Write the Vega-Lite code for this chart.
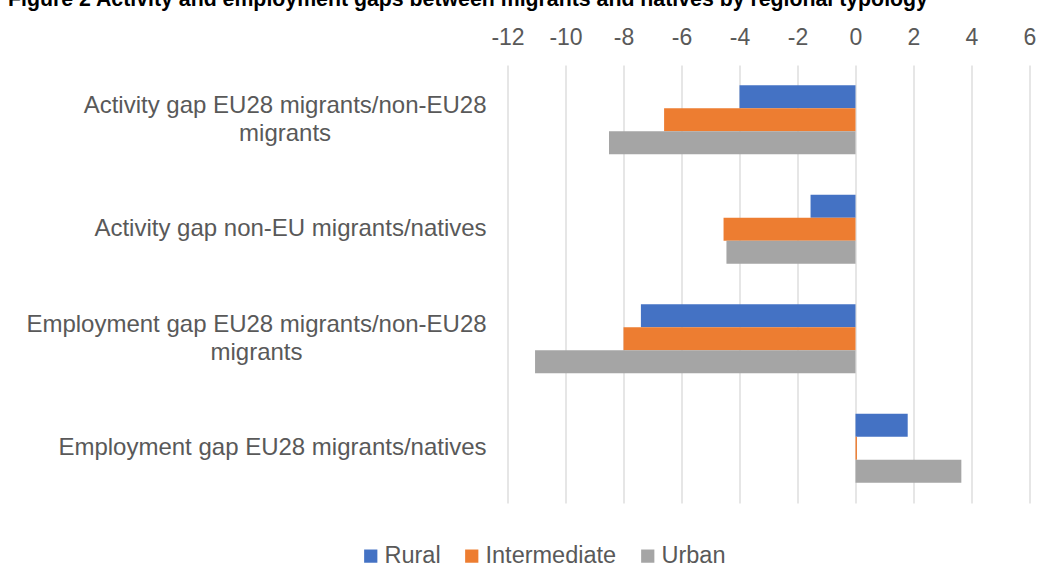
{
  "$schema": "https://vega.github.io/schema/vega-lite/v6.json",
  "autosize": "none",
  "width": 522,
  "height": 438,
  "padding": {"left": 507.5, "top": 65, "right": 29.5, "bottom": 83},
  "background": "white",
  "title": {
    "text": "Figure 2 Activity and employment gaps between migrants and natives by regional typology",
    "anchor": "start",
    "frame": "group",
    "dx": -499.5,
    "dy": -16,
    "font": "Liberation Sans",
    "fontSize": 21.3,
    "fontWeight": "bold",
    "color": "#000000",
    "offset": 0
  },
  "data": {
    "values": [
      {"category": "Activity gap EU28 migrants/non-EU28|migrants", "region": "Rural", "value": -4.0},
      {"category": "Activity gap EU28 migrants/non-EU28|migrants", "region": "Intermediate", "value": -6.6},
      {"category": "Activity gap EU28 migrants/non-EU28|migrants", "region": "Urban", "value": -8.5},
      {"category": "Activity gap non-EU migrants/natives", "region": "Rural", "value": -1.55},
      {"category": "Activity gap non-EU migrants/natives", "region": "Intermediate", "value": -4.55},
      {"category": "Activity gap non-EU migrants/natives", "region": "Urban", "value": -4.45},
      {"category": "Employment gap EU28 migrants/non-EU28|migrants", "region": "Rural", "value": -7.4},
      {"category": "Employment gap EU28 migrants/non-EU28|migrants", "region": "Intermediate", "value": -8.0},
      {"category": "Employment gap EU28 migrants/non-EU28|migrants", "region": "Urban", "value": -11.05},
      {"category": "Employment gap EU28 migrants/natives", "region": "Rural", "value": 1.8},
      {"category": "Employment gap EU28 migrants/natives", "region": "Intermediate", "value": 0.05},
      {"category": "Employment gap EU28 migrants/natives", "region": "Urban", "value": 3.65}
    ]
  },
  "mark": {"type": "bar"},
  "encoding": {
    "y": {
      "field": "category",
      "type": "nominal",
      "sort": null,
      "scale": {"paddingInner": 0.37, "paddingOuter": 0.185},
      "axis": {
        "title": null,
        "domain": false,
        "ticks": false,
        "labelPadding": 21.5,
        "labelAlign": "center",
        "labelFont": "Liberation Sans",
        "labelFontSize": 24,
        "labelColor": "#595959",
        "labelLimit": 800,
        "labelLineHeight": 28,
        "labelExpr": "split(datum.label, '|')",
        "encoding": {
          "labels": {
            "dx": {
              "condition": [
                {"test": "indexof(datum.value, 'Activity gap EU28') == 0", "value": -201.4},
                {"test": "indexof(datum.value, 'Activity gap non') == 0", "value": -196},
                {"test": "indexof(datum.value, 'Employment gap EU28 migrants/non') == 0", "value": -230}
              ],
              "value": -214
            },
            "dy": {
              "condition": {"test": "indexof(datum.value, '|') >= 0", "value": -14},
              "value": 0
            }
          }
        }
      }
    },
    "yOffset": {
      "field": "region",
      "type": "nominal",
      "sort": ["Rural", "Intermediate", "Urban"],
      "scale": {"paddingInner": 0, "paddingOuter": 0}
    },
    "x": {
      "field": "value",
      "type": "quantitative",
      "scale": {"domain": [-12, 6], "nice": false, "zero": false},
      "axis": {
        "orient": "top",
        "title": null,
        "domain": false,
        "ticks": false,
        "values": [-12, -10, -8, -6, -4, -2, 0, 2, 4, 6],
        "labelExpr": "toString(datum.value)",
        "labelFlush": false,
        "labelOverlap": false,
        "labelPadding": 16,
        "labelFont": "Liberation Sans",
        "labelFontSize": 23,
        "labelColor": "#595959",
        "grid": true,
        "gridColor": "#D9D9D9",
        "gridWidth": 1.3
      }
    },
    "color": {
      "field": "region",
      "type": "nominal",
      "sort": ["Rural", "Intermediate", "Urban"],
      "scale": {"domain": ["Rural", "Intermediate", "Urban"], "range": ["#4472C4", "#ED7D31", "#A5A5A5"]},
      "legend": {
        "title": null,
        "orient": "none",
        "legendX": -148.5,
        "legendY": 479,
        "direction": "horizontal",
        "symbolType": "square",
        "symbolSize": 175,
        "symbolStrokeWidth": 0,
        "labelFont": "Liberation Sans",
        "labelFontSize": 23.5,
        "labelColor": "#595959",
        "labelOffset": 2,
        "columnPadding": 19,
        "symbolOpacity": 1
      }
    }
  },
  "config": {
    "view": {"stroke": null}
  }
}
